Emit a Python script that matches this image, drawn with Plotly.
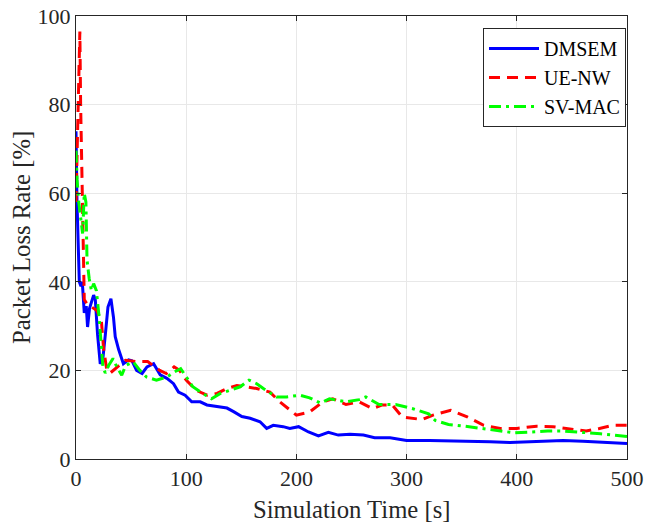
import plotly.graph_objects as go

# DMSEM
x_dmsem = [0, 0.9, 3, 4.5, 5.7, 7.5, 9.3, 10.5, 12.3, 16, 17.5, 19.6, 22, 24.4, 26.6, 29, 31.7, 34, 35.6,
           38.7, 43, 47.7, 50.7, 55, 60, 64.4, 70.4, 76.4, 82.5, 88.5, 93, 99, 105, 112.7, 118.8, 127.8,
           137, 143, 150.5, 158, 167, 173, 179, 188, 194, 202, 211, 220, 229, 238, 248.7, 260.8, 271,
           285, 300, 321, 339, 357, 375.6, 393.7, 411.8, 430, 442, 460, 478, 500]
y_dmsem = [74, 58, 40, 39, 40, 33, 34.5, 29.8, 34, 37, 36, 28, 21.5, 22.7, 28, 34.3, 36.2, 32, 27.6,
           24.7, 21.5, 22.4, 22.2, 20, 19.3, 20.8, 21.5, 19, 18.2, 17, 15.1, 14.4, 12.9, 12.9, 12.2, 11.8,
           11.5, 10.7, 9.6, 9.2, 8.4, 6.9, 7.6, 7.3, 6.9, 7.3, 6.1, 5.2, 6.0, 5.4, 5.6, 5.4, 4.8,
           4.8, 4.2, 4.2, 4.1, 4.1, 3.9, 3.7, 3.9, 4.0, 4.2, 4.0, 3.7, 3.5]

# UE-NW
x_uenw = [0, 1, 2, 3, 3.5, 4.2, 5, 5.8, 6.7, 7.5, 10, 14.5, 19, 23, 25, 28, 31, 39, 45, 55, 65, 76,
          82, 89, 94, 100, 109, 119, 128, 137, 146, 155, 164, 176, 185, 200, 212, 224, 233, 245, 257,
          269, 278, 287, 296, 314, 324, 340, 355, 370, 385, 400, 418, 433, 451, 463, 475, 487, 500]
y_uenw = [58, 68, 80, 93, 96.5, 80, 68, 55, 43, 36, 35, 34.3, 33.5, 31.3, 25, 20, 19.4, 21.1, 22.3,
          22, 22, 20, 19.3, 20.8, 20, 17.8, 15.5, 14.4, 14.8, 15.9, 16.6, 16.3, 15.9, 15.1, 12.9, 9.9,
          10.6, 12.9, 13.6, 12.3, 12.9, 11.4, 12.2, 12.2, 9.5, 8.9, 9.9, 11, 9.5, 7.6, 6.9, 6.9, 7.4,
          7.3, 6.6, 6.3, 6.9, 7.6, 7.6]

# SV-MAC
x_svmac = [0, 1, 2.5, 4.5, 6, 7.5, 9, 10, 12, 14, 16, 18.5, 21, 23, 24.4, 26.6, 29.6, 33.6, 37, 41.5,
           45, 52, 58, 64, 73, 82.5, 89, 95, 100, 106, 115, 123, 131, 140, 149, 157, 164, 170, 182,
           191, 203, 212, 222, 230, 245, 257, 263, 275, 290, 305, 320, 326, 338, 353, 368, 383, 398,
           413, 428, 443, 458, 476, 500]
y_svmac = [69.6, 63, 58, 54.6, 50.9, 60, 58, 44.9, 40.7, 38, 39.6, 38, 32, 25.3, 20.8, 19.4, 21.1,
           22.7, 20.8, 18.9, 21.1, 21.9, 20, 18.5, 17.8, 18.5, 19.6, 20.4, 18.5, 16.3, 14.8, 13.6,
           14.8, 15.5, 16.3, 17.8, 17, 15.9, 14, 14, 14.4, 13.8, 12.6, 13.6, 12.9, 13.4, 14, 12.3, 12.3,
           11.4, 10.2, 8.7, 7.8, 7.4, 6.9, 6.3, 5.9, 6.1, 6.3, 6.3, 6.1, 5.7, 5.1]

FONT = "Times New Roman, Liberation Serif, serif"
TXT = "#262626"

W, H = 648, 523
ML, MR, MT, MB = 76, 21, 16, 64
PW, PH = W - ML - MR, H - MT - MB

fig = go.Figure()
fig.add_trace(go.Scatter(x=x_dmsem, y=y_dmsem, mode="lines", name="DMSEM",
                         line=dict(color="#0000ff", width=3, dash="solid")))
fig.add_trace(go.Scatter(x=x_uenw, y=y_uenw, mode="lines", name="UE-NW",
                         line=dict(color="#ff0000", width=3, dash="11px,7px")))
fig.add_trace(go.Scatter(x=x_svmac, y=y_svmac, mode="lines", name="SV-MAC",
                         line=dict(color="#00ff00", width=3, dash="12px,5px,3px,5px")))

axis_common = dict(showline=True, linecolor=TXT, linewidth=1, mirror="ticks",
                   ticks="inside", ticklen=5, tickcolor=TXT, showgrid=True,
                   gridcolor="#e8e8e8", gridwidth=1, zeroline=False, automargin=False,
                   tickfont=dict(family=FONT, size=22, color=TXT))

fig.update_xaxes(range=[0, 500], dtick=100, tick0=0, **axis_common)
fig.update_yaxes(range=[0, 100], dtick=20, tick0=0, **axis_common)

def px_to_paper(px, py):
    return (px - ML) / PW, (H - MB - py) / PH

xt = px_to_paper(352, 509)
yt = px_to_paper(21, 238)
fig.add_annotation(text="Simulation Time [s]", xref="paper", yref="paper", x=xt[0], y=xt[1],
                   xanchor="center", yanchor="middle", showarrow=False,
                   font=dict(family=FONT, size=24.7, color=TXT))
fig.add_annotation(text="Packet Loss Rate [%]", xref="paper", yref="paper", x=yt[0], y=yt[1],
                   xanchor="center", yanchor="middle", showarrow=False, textangle=-90,
                   font=dict(family=FONT, size=24.7, color=TXT))

lg = px_to_paper(626, 28)
fig.update_layout(
    width=W, height=H,
    margin=dict(l=ML, r=MR, t=MT, b=MB),
    plot_bgcolor="white", paper_bgcolor="white",
    showlegend=True,
    legend=dict(x=lg[0], y=lg[1], xanchor="right", yanchor="top",
                bgcolor="white", bordercolor=TXT, borderwidth=1,
                font=dict(family=FONT, size=20, color="#000000"),
                itemwidth=50),
)

fig.write_html("out.html")
